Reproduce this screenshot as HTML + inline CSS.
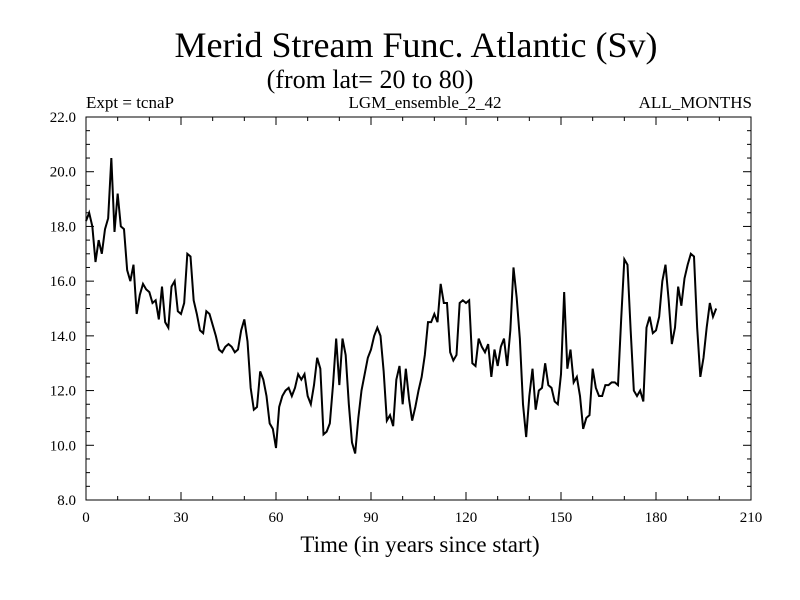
<!DOCTYPE html>
<html><head><meta charset="utf-8"><style>body{margin:0;background:#fff}svg{display:block;font-family:"Liberation Serif",serif}</style></head>
<body>
<svg id="c" width="800" height="600"></svg>
<script>
const xTicks=[0,30,60,90,120,150,180,210];
const yTicks=[8.0,10.0,12.0,14.0,16.0,18.0,20.0,22.0];
const values=[18.2,18.5,18.0,16.7,17.5,17.0,17.9,18.3,20.5,17.8,19.2,
18.0,17.9,16.4,16.0,16.6,14.8,15.5,15.9,15.7,15.6,
15.2,15.3,14.6,15.8,14.5,14.3,15.8,16.0,14.9,14.8,
15.2,17.0,16.9,15.3,14.8,14.2,14.1,14.9,14.8,14.4,
14.0,13.5,13.4,13.6,13.7,13.6,13.4,13.5,14.2,14.6,
13.8,12.1,11.3,11.4,12.7,12.4,11.8,10.8,10.6,9.9,
11.4,11.8,12.0,12.1,11.8,12.1,12.6,12.4,12.6,11.8,
11.5,12.2,13.2,12.8,10.4,10.5,10.8,12.2,13.9,12.2,
13.9,13.3,11.5,10.1,9.7,11.0,12.0,12.6,13.2,13.5,
14.0,14.3,14.0,12.7,10.9,11.1,10.7,12.4,12.9,11.5,
12.8,11.7,10.9,11.4,12.0,12.5,13.3,14.5,14.5,14.8,
14.5,15.9,15.2,15.2,13.4,13.1,13.3,15.2,15.3,15.2,
15.3,13.0,12.9,13.9,13.6,13.4,13.7,12.5,13.5,12.9,
13.6,13.9,12.9,14.2,16.5,15.4,13.9,11.5,10.3,11.8,
12.8,11.3,12.0,12.1,13.0,12.2,12.1,11.6,11.5,12.6,
15.6,12.8,13.5,12.3,12.5,11.8,10.6,11.0,11.1,12.8,
12.1,11.8,11.8,12.2,12.2,12.3,12.3,12.2,14.6,16.8,
16.6,14.2,12.0,11.8,12.0,11.6,14.3,14.7,14.1,14.2,
14.7,16.0,16.6,15.3,13.7,14.3,15.8,15.1,16.1,16.6,
17.0,16.9,14.3,12.5,13.2,14.3,15.2,14.7,15.0];
const X0=86,X1=751,Y0=500,Y1=117;
const sx=v=>X0+(v-0)/210*(X1-X0);
const sy=v=>Y0-(v-8)/14*(Y0-Y1);
const svg=document.getElementById('c');const NS='http://www.w3.org/2000/svg';
function mk(t,a,txt){const e=document.createElementNS(NS,t);for(const k in a)e.setAttribute(k,a[k]);if(txt!==undefined)e.textContent=txt;svg.appendChild(e);return e;}
let e;
e=mk('text',{x:416,y:57,'font-size':36,'text-anchor':'middle'},'Merid Stream Func. Atlantic (Sv)');


e=mk('text',{x:370,y:88,'font-size':26,'text-anchor':'middle'},'(from lat= 20 to 80)');


e=mk('text',{x:86,y:108,'font-size':17},'Expt = tcnaP');


e=mk('text',{x:425,y:108,'font-size':17,'text-anchor':'middle'},'LGM_ensemble_2_42');


e=mk('text',{x:752,y:108,'font-size':17,'text-anchor':'end'},'ALL_MONTHS');


e=mk('rect',{x:X0,y:Y1,width:X1-X0,height:Y0-Y1,fill:'none',stroke:'#000','stroke-width':1});


for(let v=0;v<=210;v+=10){const big=v%30===0,L=big?8:4;
e=mk('line',{x1:sx(v),x2:sx(v),y1:Y0,y2:Y0-L,stroke:'#000'});


e=mk('line',{x1:sx(v),x2:sx(v),y1:Y1,y2:Y1+L,stroke:'#000'});

}
for(let v=8;v<=22;v+=0.5){const big=Math.abs(v%2)<1e-9,L=big?8:4;
e=mk('line',{x1:X0,x2:X0+L,y1:sy(v),y2:sy(v),stroke:'#000'});


e=mk('line',{x1:X1,x2:X1-L,y1:sy(v),y2:sy(v),stroke:'#000'});

}
xTicks.forEach(v=>{e=mk('text',{x:sx(v),y:522,'font-size':15,'text-anchor':'middle'},String(v));

});
yTicks.forEach(v=>{e=mk('text',{x:76,y:sy(v)+5,'font-size':15,'text-anchor':'end'},v.toFixed(1));

});
e=mk('text',{x:420,y:552,'font-size':23,'text-anchor':'middle'},'Time (in years since start)');


e=mk('polyline',{points:values.map((v,i)=>sx(i)+','+sy(v)).join(' '),fill:'none',stroke:'#000','stroke-width':2});


</script>
</body></html>
